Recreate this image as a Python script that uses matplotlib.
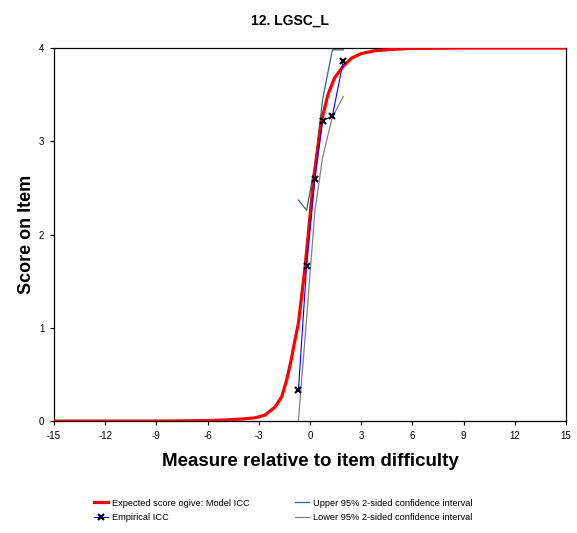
import matplotlib
matplotlib.use('Agg')
import matplotlib.pyplot as plt

plt.rcParams['font.family'] = ['Liberation Sans', 'DejaVu Sans']
plt.rcParams['axes.unicode_minus'] = False

# model ICC (expected score ogive)
model_x = [-15, -9, -6, -4.5, -3.8, -3.22, -2.64, -2.05, -1.66, -1.37, -1.11,
           -0.88, -0.68, -0.29, 0.20, 0.66, 1.05, 1.44, 1.93, 2.42, 3.0, 3.79,
           4.8, 5.86, 9, 15]
model_y = [0, 0, 0.005, 0.015, 0.025, 0.035, 0.064, 0.15, 0.26, 0.44, 0.65,
           0.87, 1.05, 1.65, 2.58, 3.21, 3.50, 3.68, 3.80, 3.89, 3.94, 3.97,
           3.985, 3.995, 4, 4]

# empirical ICC and its confidence band
emp_x = [-0.68, -0.20, 0.29, 0.74, 1.31, 1.95]
emp_y = [0.33, 1.66, 2.60, 3.22, 3.27, 3.86]
upper_y = [2.37, 2.26, 2.75, 3.45, 3.98, 3.98]
lower_y = [0.01, 1.10, 2.26, 2.83, 3.26, 3.48]

x_ticks = [-15, -12, -9, -6, -3, 0, 3, 6, 9, 12, 15]
y_ticks = [0, 1, 2, 3, 4]

fig = plt.figure(figsize=(5.77, 5.33), dpi=100)
ax = fig.add_axes([0.0936, 0.210, 0.8874, 0.700])

h_model, = ax.plot(model_x, model_y, color='#FF0000', lw=2.3, zorder=3,
                   label='Expected score ogive: Model ICC')
h_emp, = ax.plot(emp_x, emp_y, color='#0000FF', lw=0.8, marker='x', ms=4.5,
                 mec='black', mew=1.5, zorder=4, label='Empirical ICC')
h_up, = ax.plot(emp_x, upper_y, color='#2F6B6B', lw=0.9, zorder=2,
                label='Upper 95% 2-sided confidence interval')
h_lo, = ax.plot(emp_x, lower_y, color='#808080', lw=0.9, zorder=2,
                label='Lower 95% 2-sided confidence interval')

ax.set_xlim(-15, 15)
ax.set_ylim(0, 4)
ax.set_xticks(x_ticks)
ax.set_yticks(y_ticks)
ax.tick_params(labelsize=7, length=3, width=0.8, pad=4)
for s in ax.spines.values():
    s.set_linewidth(0.9)

ax.set_xlabel('Measure relative to item difficulty', fontsize=13.5,
              fontweight='bold', labelpad=9)
ax.set_ylabel('Score on Item', fontsize=13, fontweight='bold', labelpad=3)
fig.text(0.503, 0.962, '12. LGSC_L', fontsize=10, fontweight='bold',
         ha='center', va='center')

fig.legend(handles=[h_model, h_emp, h_up, h_lo], ncol=2, frameon=False,
           fontsize=6.7, handlelength=1.5, handletextpad=0.5,
           columnspacing=4.8, labelspacing=0.6,
           loc='upper left', bbox_to_anchor=(0.148, 0.08))

fig.savefig('out.png', dpi=100)
